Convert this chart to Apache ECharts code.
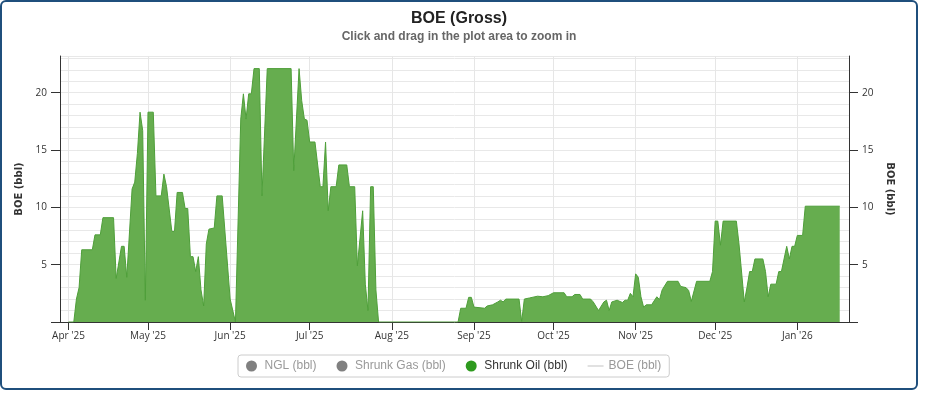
<!DOCTYPE html>
<html><head><meta charset="utf-8">
<script src="https://cdn.jsdelivr.net/npm/echarts@6/dist/echarts.min.js"></script>
<style>
html,body{margin:0;padding:0;background:#fff;}
#c{position:absolute;left:0;top:0;width:936px;height:394px;}
#frame{position:absolute;left:0;top:0;width:914px;height:386px;border:2px solid #1f4f7c;border-radius:6px;pointer-events:none;}
</style></head><body>
<div id="c"></div><div id="frame"></div>
<script>
// ---- data ----
const oilDates = [
 '2025-04-01','2025-04-03','2025-04-04','2025-04-05','2025-04-06','2025-04-10','2025-04-11','2025-04-13','2025-04-14','2025-04-18',
 '2025-04-19','2025-04-21','2025-04-22','2025-04-23','2025-04-25','2025-04-26','2025-04-27','2025-04-28','2025-04-29','2025-04-30',
 '2025-05-01','2025-05-03','2025-05-04','2025-05-06','2025-05-07','2025-05-08','2025-05-10','2025-05-11','2025-05-12','2025-05-14',
 '2025-05-15','2025-05-16','2025-05-17','2025-05-18','2025-05-19','2025-05-20','2025-05-21','2025-05-22','2025-05-23','2025-05-24',
 '2025-05-26','2025-05-27','2025-05-29','2025-05-30','2025-06-01','2025-06-03','2025-06-05','2025-06-06','2025-06-07','2025-06-08',
 '2025-06-09','2025-06-10','2025-06-12','2025-06-13','2025-06-15','2025-06-24','2025-06-25','2025-06-27','2025-06-28','2025-06-29',
 '2025-06-30','2025-07-01','2025-07-03','2025-07-05','2025-07-06','2025-07-07','2025-07-08','2025-07-09','2025-07-11','2025-07-12',
 '2025-07-15','2025-07-16','2025-07-18','2025-07-19','2025-07-21','2025-07-22','2025-07-23','2025-07-24','2025-07-25','2025-07-26',
 '2025-07-27','2025-08-26','2025-08-27','2025-08-29','2025-08-30','2025-08-31','2025-09-01','2025-09-05','2025-09-06','2025-09-08',
 '2025-09-10','2025-09-11','2025-09-12','2025-09-13','2025-09-18','2025-09-19','2025-09-20','2025-09-22','2025-09-25','2025-09-27',
 '2025-09-29','2025-10-01','2025-10-05','2025-10-06','2025-10-08','2025-10-09','2025-10-11','2025-10-12','2025-10-15','2025-10-16',
 '2025-10-18','2025-10-20','2025-10-21','2025-10-22','2025-10-23','2025-10-25','2025-10-27','2025-10-28','2025-10-29','2025-10-30',
 '2025-10-31','2025-11-01','2025-11-02','2025-11-03','2025-11-04','2025-11-05','2025-11-07','2025-11-09','2025-11-10','2025-11-11',
 '2025-11-13','2025-11-17','2025-11-18','2025-11-20','2025-11-21','2025-11-22','2025-11-24','2025-11-29','2025-11-30','2025-12-01',
 '2025-12-02','2025-12-03','2025-12-04','2025-12-09','2025-12-10','2025-12-12','2025-12-13','2025-12-14','2025-12-15','2025-12-16',
 '2025-12-19','2025-12-20','2025-12-21','2025-12-22','2025-12-24','2025-12-25','2025-12-26','2025-12-28','2025-12-29','2025-12-30',
 '2025-12-31','2026-01-01','2026-01-03','2026-01-04','2026-01-17'
];
const oilValues = [
 0,0,2.0,3.0,6.3,6.3,7.6,7.6,9.1,9.1,
 3.8,6.6,6.6,3.9,11.6,12.2,14.7,18.3,16.7,1.9,
 18.3,18.3,11.0,11.0,12.9,11.8,7.9,7.9,11.3,11.3,
 9.9,9.9,5.7,5.7,4.4,5.7,2.8,1.4,6.8,8.1,
 8.2,11.0,11.0,8.0,2.0,0,17.7,19.9,17.7,19.9,
 19.9,22.1,22.1,11.0,22.1,22.1,13.2,22.1,19.3,17.7,
 17.6,15.7,15.7,11.8,11.8,15.7,9.7,11.8,11.8,13.7,
 13.7,11.8,11.8,4.9,9.7,3.3,1.0,11.8,11.8,2.8,
 0,0,1.2,1.2,2.15,2.15,1.3,1.2,1.4,1.5,
 1.75,1.9,1.75,2.0,2.0,0.05,2.0,2.1,2.25,2.2,
 2.3,2.55,2.55,2.2,2.2,2.4,2.4,2.0,2.0,1.75,
 1.0,1.75,1.9,1.0,1.75,1.9,1.7,1.9,1.9,2.5,
 2.2,4.2,3.9,2.2,1.3,1.5,1.5,2.2,1.95,2.8,
 3.55,3.55,3.1,3.0,2.75,1.8,3.55,3.55,4.4,8.8,
 8.8,6.7,8.8,8.8,6.8,1.75,3.0,4.4,4.4,5.5,
 5.5,4.4,2.2,3.3,3.3,4.4,4.4,6.6,5.5,6.6,
 6.6,7.55,7.55,10.1,10.1
];
const tickMonths = ['2025-04-01','2025-05-01','2025-06-01','2025-07-01','2025-08-01','2025-09-01','2025-10-01','2025-11-01','2025-12-01','2026-01-01'];
const monthNames = ['Jan','Feb','Mar','Apr','May','Jun','Jul','Aug','Sep','Oct','Nov','Dec'];
const yTicks = [0,5,10,15,20];
const legendNames = ['NGL (bbl)','Shrunk Gas (bbl)','Shrunk Oil (bbl)','BOE (bbl)'];

function toTs(s){const p=s.split('-').map(Number);return new Date(p[0],p[1]-1,p[2]).getTime();}
const DAY = 86400000;
const xMin = toTs('2025-04-01') - 3.2*DAY;
const xMax = toTs('2025-04-01') + 294.5*DAY;
const yMax = 23.2;
const tickTs = tickMonths.map(toTs);
function fmtMonth(v){const d=new Date(v);return monthNames[d.getMonth()]+" '"+String(d.getFullYear()).slice(2);}

const axisFont = {fontFamily:'Open Sans', fontSize:10, color:'#333'};
function yAxisDef(pos){
  return {
    type:'value', min:0, max:yMax, position:pos,
    name:'BOE (bbl)', nameLocation:'middle', nameRotate: pos==='left'?90:-90, nameGap:pos==='left'?34:33,
    nameTextStyle:{fontFamily:'DejaVu Sans', fontSize:10, fontWeight:'bold', color:'#333'},
    axisLine:{show:true, lineStyle:{color:'#333', width:1}},
    axisTick:{show:true, length:9, customValues:yTicks, lineStyle:{color:'#333'}},
    axisLabel:Object.assign({customValues:yTicks, margin:13, formatter:v=>v===0?'':String(v)}, axisFont),
    splitLine:{show:false}
  };
}

const chart = echarts.init(document.getElementById('c'), null, {renderer:'canvas'});
chart.setOption({
  animation:false,
  title:{
    text:'BOE (Gross)', subtext:'Click and drag in the plot area to zoom in',
    left:454, top:6, textAlign:'center', itemGap:4,
    textStyle:{fontFamily:'Liberation Sans', fontSize:16, fontWeight:'bold', color:'#222'},
    subtextStyle:{fontFamily:'Liberation Sans', fontSize:12, fontWeight:'bold', color:'#666'}
  },
  grid:{left:60, right:87, top:56, bottom:72, outerBoundsMode:'none'},
  legend:{
    left:238, top:355, padding:[5,8,5,8], itemGap:20, itemWidth:16, itemHeight:11,
    borderColor:'#ccc', borderWidth:1, borderRadius:3, selectedMode:false,
    textStyle:{fontFamily:'Liberation Sans', fontSize:12, color:'#333'},
    data:[
      {name:legendNames[0], icon:'circle', itemStyle:{color:'#808080', borderWidth:0}, textStyle:{color:'#999'}},
      {name:legendNames[1], icon:'circle', itemStyle:{color:'#808080', borderWidth:0}, textStyle:{color:'#999'}},
      {name:legendNames[2], icon:'circle', itemStyle:{color:'#2e9a1e', borderWidth:0}, textStyle:{color:'#333'}},
      {name:legendNames[3], icon:'path://M0,0H20V1.2H0Z', itemStyle:{color:'#c0c0c0', borderWidth:0}, textStyle:{color:'#999'}}
    ]
  },
  xAxis:{
    type:'value', min:xMin, max:xMax, scale:true,
    axisLine:{show:true, lineStyle:{color:'#333', width:1}},
    axisTick:{show:true, length:8, customValues:tickTs, lineStyle:{color:'#333'}},
    axisLabel:Object.assign({customValues:tickTs, margin:9, formatter:fmtMonth}, axisFont),
    splitLine:{show:true, lineStyle:{color:'#e6e6e6', width:1}}
  },
  yAxis:[
    yAxisDef('left'),
    yAxisDef('right'),
    {type:'value', min:0, max:yMax, interval:1, position:'left',
     axisLine:{show:false}, axisTick:{show:false}, axisLabel:{show:false},
     splitLine:{show:true, lineStyle:{color:'#e8e8e8', width:1}}}
  ],
  series:[
    {name:legendNames[0], type:'line', data:[], symbol:'none', itemStyle:{color:'#808080'}},
    {name:legendNames[1], type:'line', data:[], symbol:'none', itemStyle:{color:'#808080'}},
    {name:legendNames[2], type:'line', yAxisIndex:0, symbol:'none',
     data:oilDates.map((d,i)=>[toTs(d), oilValues[i]]),
     itemStyle:{color:'#2e9a1e'},
     lineStyle:{color:'#4f9f3a', width:1},
     areaStyle:{color:'#66ad4f', opacity:1}},
    {name:legendNames[3], type:'line', data:[], symbol:'none', itemStyle:{color:'#c0c0c0'}, lineStyle:{color:'#c0c0c0', width:1}}
  ]
});
</script>
</body></html>
